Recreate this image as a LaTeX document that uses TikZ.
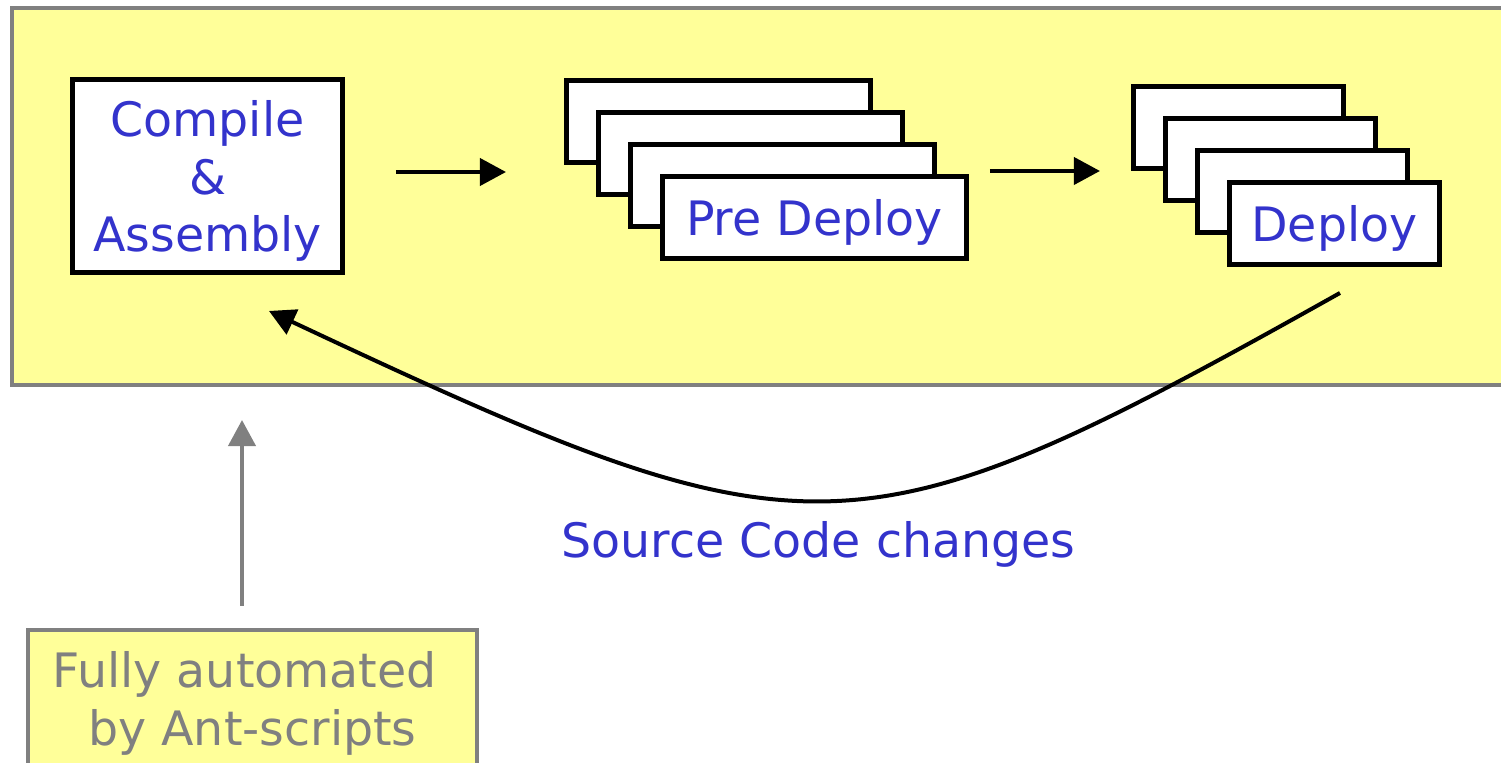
\documentclass[tikz,border=0pt]{standalone}
\usepackage{fontspec}
\setmainfont{DejaVu Sans}
\usetikzlibrary{arrows.meta,positioning}
\definecolor{paleyellow}{HTML}{FFFF99}
\definecolor{framegray}{HTML}{808080}
\definecolor{stepblue}{HTML}{3333CC}

\begin{document}
\begin{tikzpicture}[x=0.02cm,y=-0.02cm,on grid,
  panel/.style={draw=framegray,fill=paleyellow,line width=0.09cm},
  stepbox/.style={draw,fill=white,line width=0.1cm,text=stepblue,inner sep=0pt,
    text depth=0pt,font=\fontsize{27}{33}\selectfont},
  precard/.style={stepbox,minimum width=6.08cm,minimum height=1.64cm},
  depcard/.style={stepbox,minimum width=4.2cm,minimum height=1.64cm},
  notebox/.style={draw=framegray,fill=paleyellow,line width=0.08cm,text=framegray,
    align=center,minimum width=8.98cm,inner xsep=0pt,inner ysep=0.43cm,outer sep=0pt,
    font=\fontsize{27}{33}\selectfont},
  flow/.style={-{Triangle[length=0.52cm,width=0.54cm]},line width=0.08cm}]

  \useasboundingbox (0,0) rectangle (1501,763);
  \path[panel] (12,8) rectangle (1540,385);

  \node[stepbox,minimum width=5.4cm,minimum height=3.86cm,align=center] (compile) at (207.5,176) {Compile\\\&\\Assembly};

  \node[precard] (pre1) at (718.5,121.5) {};
  \node[precard] (pre2) [below right=0.64cm and 0.64cm of pre1] {};
  \node[precard] (pre3) [below right=0.64cm and 0.64cm of pre2] {};
  \node[precard] (pre4) [below right=0.64cm and 0.64cm of pre3] {Pre Deploy};

  \node[depcard] (dep1) at (1238.5,127.5) {};
  \node[depcard] (dep2) [below right=0.64cm and 0.64cm of dep1] {};
  \node[depcard] (dep3) [below right=0.64cm and 0.64cm of dep2] {};
  \node[depcard] (dep4) [below right=0.64cm and 0.64cm of dep3] {Deploy};

  \node[notebox,anchor=north] (auto) at (252.5,629.5) {Fully automated\hspace*{0.33em}\\by Ant-scripts};

  \node[text=stepblue,inner sep=0pt,text depth=0pt,font=\fontsize{27}{33}\selectfont] (changes) at (818.5,539) {Source Code changes};

  \draw[flow] ([xshift=1.02cm,yshift=0.08cm]compile.east) -- ++(110,0);
  \draw[flow] ([xshift=0.42cm,yshift=0.06cm]pre4.north east) -- ++(110,0);
  \draw[flow] ([xshift=0.11cm,yshift=-0.52cm]dep4.south) .. controls (853,566) and (812,566) .. ([xshift=1.23cm,yshift=-0.72cm]compile.south);
  \draw[flow,draw=framegray] ([xshift=-0.21cm,yshift=0.48cm]auto.north) -- ++(0,-185.5);

\end{tikzpicture}
\end{document}
